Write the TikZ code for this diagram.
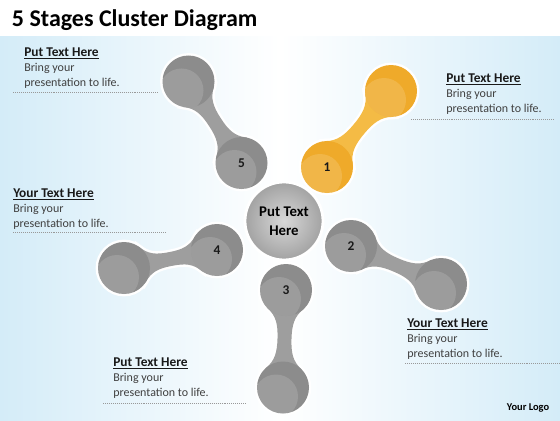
\documentclass[tikz,border=0pt]{standalone}
\usepackage{fontspec}
\setmainfont{Carlito}
\usetikzlibrary{calc}
\definecolor{bgblue}{RGB}{212,236,248}
\definecolor{ballgray}{RGB}{140,140,140}
\definecolor{neckgray}{RGB}{158,158,158}
\definecolor{ballgold}{RGB}{239,170,42}
\definecolor{neckgold}{RGB}{244,187,69}
\definecolor{hubin}{RGB}{216,216,216}
\definecolor{hubout}{RGB}{162,162,162}
\definecolor{bodytext}{RGB}{64,64,64}
\pgfdeclarelayer{back}
\pgfdeclarelayer{rims}
\pgfdeclarelayer{bones}
\pgfsetlayers{back,rims,bones,main}
\tikzset{
  ball/.style={circle, minimum size=36.85pt, inner sep=0pt, text=black!90,
    font=\fontsize{9.5}{11}\selectfont\bfseries,
    path picture={\fill[white, opacity=.14] ($(path picture bounding box.center)+(-7,-9)$) circle (22);}},
  grayball/.style={ball, fill=ballgray},
  goldball/.style={ball, fill=ballgold},
  rim/.style={draw=white, line width=3.4pt},
  hub/.style={circle, minimum size=55.3pt, inner sep=0pt, draw=white, line width=2pt,
    inner color=hubin, outer color=hubout, align=center,
    font=\fontsize{10.5}{13.5}\selectfont\bfseries},
  info/.style={anchor=north west, inner sep=0pt, align=left, text=bodytext,
    font=\fontsize{8.5}{10.6}\selectfont},
  dotline/.style={gray!80, densely dotted, line width=.4pt}
}
\newcommand{\infohead}[1]{{\fontsize{9.5}{10.6}\selectfont\bfseries\color{black!90}\underline{#1}}}
\newcommand{\neckpath}[2]{%
  ($(#1.center)!18.43pt!45:(#2.center)$)
  .. controls ($(#1.center)!19.5pt!19.1:(#2.center)$) and ($(mid)!11.09pt!-26.57:(#1.center)$) .. ($(mid)!4.96pt!90:(#2.center)$)
  .. controls ($(mid)!11.09pt!26.57:(#2.center)$) and ($(#2.center)!19.5pt!-19.1:(#1.center)$) .. ($(#2.center)!18.43pt!-45:(#1.center)$)
  -- ($(#2.center)!18.43pt!45:(#1.center)$)
  .. controls ($(#2.center)!19.5pt!19.1:(#1.center)$) and ($(mid)!11.09pt!-26.57:(#2.center)$) .. ($(mid)!4.96pt!-90:(#2.center)$)
  .. controls ($(mid)!11.09pt!26.57:(#1.center)$) and ($(#1.center)!19.5pt!-19.1:(#2.center)$) .. ($(#1.center)!18.43pt!-45:(#2.center)$)
  -- cycle}
\newcommand{\bone}[3]{%
  \coordinate (mid) at ($(#1.center)!.5!(#2.center)$);
  \begin{pgfonlayer}{rims}
    \draw[rim] (#1.center) circle (26) (#2.center) circle (26);
    \draw[rim] \neckpath{#1}{#2};
  \end{pgfonlayer}
  \begin{pgfonlayer}{bones}
    \fill[#3] \neckpath{#1}{#2};
  \end{pgfonlayer}}
\begin{document}
\begin{tikzpicture}[x=0.70866pt, y=0.70866pt]
\useasboundingbox (0,0) rectangle (560,420);
\begin{pgfonlayer}{back}
  \fill[white] (0,0) rectangle (560,420);
  \shade[left color=bgblue, right color=bgblue, middle color=white] (0,0) rectangle (560,383);
\end{pgfonlayer}

\node[anchor=base west, font=\fontsize{17}{20}\selectfont\bfseries] (title) at (7,393) {5 Stages Cluster Diagram};

\node[hub] (hub) at (284,199) {Put Text\\Here};

\node[goldball] (i1) at (327,253) {1};
\node[goldball] (o1) at (391,329) {};
\node[grayball] (i2) at (351,174) {2};
\node[grayball] (o2) at (441,136) {};
\node[grayball] (i3) at (286,130) {3};
\node[grayball] (o3) at (283,32.5) {};
\node[grayball] (i4) at (217,170) {4};
\node[grayball] (o4) at (124,152) {};
\node[grayball] (i5) at (241.5,257) {5};
\node[grayball] (o5) at (188.5,338.5) {};

\bone{i1}{o1}{neckgold}
\bone{i2}{o2}{neckgray}
\bone{i3}{o3}{neckgray}
\bone{i4}{o4}{neckgray}
\bone{i5}{o5}{neckgray}

\node[info] (t1) at (446,346.6) {\infohead{Put Text Here}\\Bring your\\presentation to life.};
\draw[dotline] (411,301) -- (555,301);
\node[info] (t2) at (407,101.6) {\infohead{Your Text Here}\\Bring your\\presentation to life.};
\draw[dotline] (405,57) -- (560,57);
\node[info] (t3) at (113,62.6) {\infohead{Put Text Here}\\Bring your\\presentation to life.};
\draw[dotline] (103,17) -- (247,17);
\node[info] (t4) at (13,231.6) {\infohead{Your Text Here}\\Bring your\\presentation to life.};
\draw[dotline] (13,188) -- (167,188);
\node[info] (t5) at (24,372.6) {\infohead{Put Text Here}\\Bring your\\presentation to life.};
\draw[dotline] (13,328) -- (158,328);

\node[anchor=base west, font=\fontsize{7.4}{9}\selectfont\bfseries] (logo) at (502,9.3) {Your Logo};
\end{tikzpicture}
\end{document}
